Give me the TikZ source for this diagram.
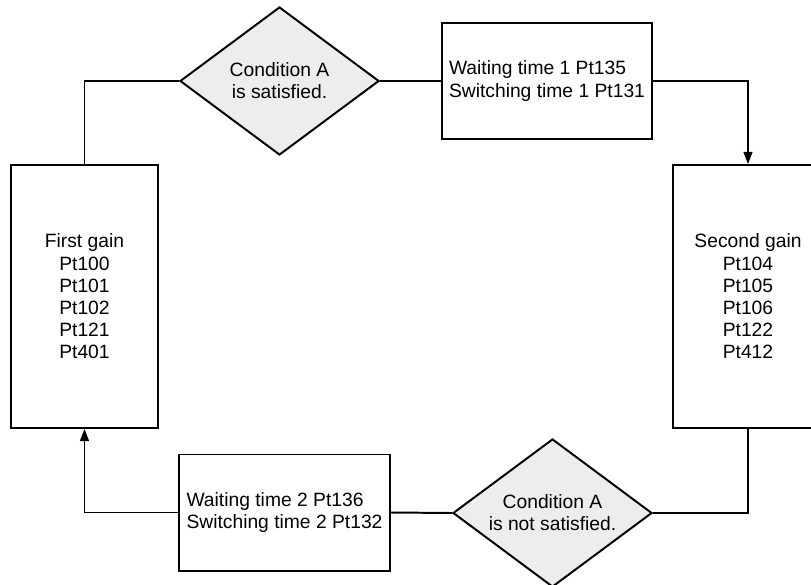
\documentclass[tikz,border=0pt]{standalone}
\usepackage{fontspec}
\setmainfont{Liberation Sans}
\usepackage{tikz}
\usetikzlibrary{positioning, arrows.meta, shapes.geometric}

\begin{document}
\begin{tikzpicture}[x=0.025cm, y=-0.025cm, >={Triangle[length=3mm, width=2.2mm]},
      font=\fontsize{13.7}{15.8}\selectfont, line width=1.4pt,
      gainbox/.style={draw, align=center, minimum height=6.575cm, inner sep=0pt},
      waitbox/.style={draw, align=left, minimum width=5.25cm, minimum height=2.9cm, inner sep=0pt},
      cond/.style={draw, diamond, aspect=1.345, fill=black!7, align=center, minimum width=4.975cm, minimum height=3.7cm, inner sep=0pt},
      link/.style={line width=1.4pt}]
    \clip (0,0) rectangle (811,585);
    % --- gains ---
    \node[gainbox, minimum width=3.675cm] (first)  at (84.5,296.5) {First gain\\Pt100\\Pt101\\Pt102\\Pt121\\Pt401};
    \node[gainbox, minimum width=3.75cm]  (second) at (748,296.5)  {Second gain\\Pt104\\Pt105\\Pt106\\Pt122\\Pt412};
    % --- top row ---
    \node[cond]    (condsat) at (279.5,81) {Condition A\\is satisfied.};
    \node[waitbox] (wait1)   at (547,81)   {Waiting time 1 Pt135\\Switching time 1 Pt131};
    % --- bottom row ---
    \node[cond]    (condnot) at (552.5,513) {Condition A\\is not satisfied.};
    \node[waitbox] (wait2)   at (284.5,512.5) {Waiting time 2 Pt136\\Switching time 2 Pt132};
    % --- connectors ---
    \draw[link]     (first.north)  |- (condsat.west);
    \draw[link]     (condsat.east) -- (wait1.west);
    \draw[link, ->] (wait1.east)   -| (second.north);
    \draw[link]     (second.south) |- (condnot.east);
    \draw[link]     (condnot.west) -- (wait2.east);
    \draw[link, ->] (wait2.west)   -| (first.south);
  \end{tikzpicture}
\end{document}
